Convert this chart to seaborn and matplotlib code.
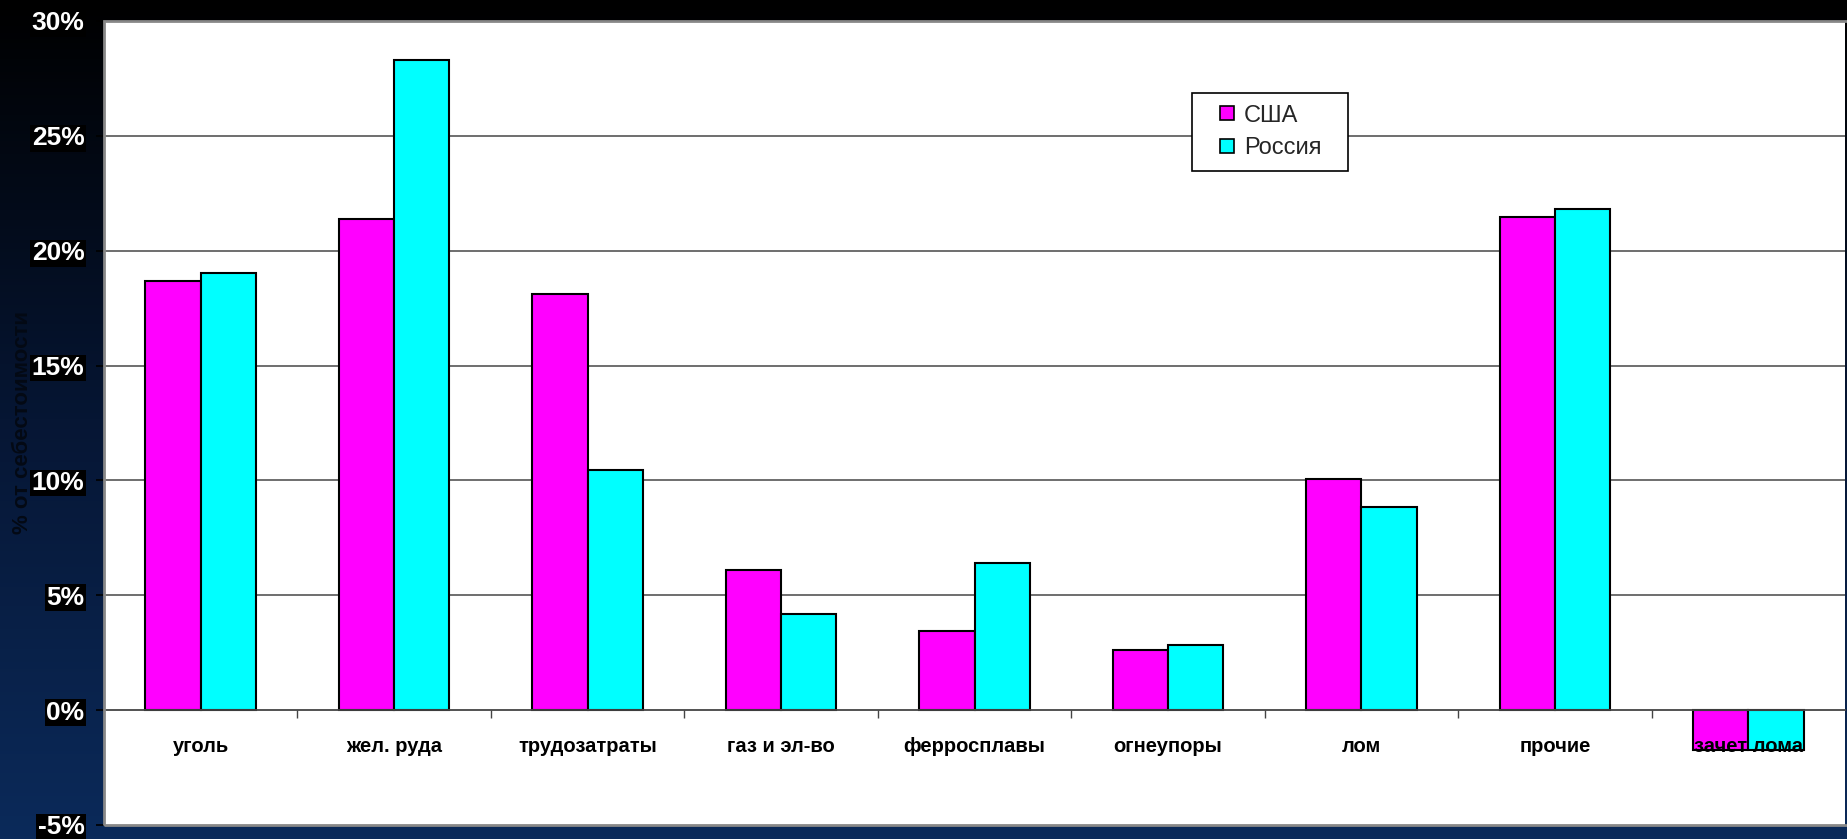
import matplotlib
matplotlib.use('Agg')
import matplotlib.pyplot as plt
import matplotlib.colors as mcolors
from matplotlib.lines import Line2D
from matplotlib.patches import Rectangle
import numpy as np
import pandas as pd
import seaborn as sns

categories = ['уголь', 'жел. руда', 'трудозатраты', 'газ и эл-во', 'ферросплавы',
              'огнеупоры', 'лом', 'прочие', 'зачет лома']
usa = [18.7, 21.4, 18.1, 6.1, 3.45, 2.6, 10.05, 21.45, -1.75]
russia = [19.05, 28.3, 10.45, 4.2, 6.4, 2.85, 8.85, 21.8, -1.75]
series = ['США', 'Россия']
yticks = [-5, 0, 5, 10, 15, 20, 25, 30]

df = pd.DataFrame({'cat': categories * 2,
                   'value': usa + russia,
                   'country': [series[0]] * len(usa) + [series[1]] * len(russia)})

sns.set_style('white')
plt.rcParams['font.family'] = ['Liberation Sans', 'DejaVu Sans']

W, H = 1847, 839
fig = plt.figure(figsize=(W / 100, H / 100), dpi=100)

# dark gradient background, black at top -> navy at bottom
bg = fig.add_axes([0, 0, 1, 1], zorder=-10)
cmap_bg = mcolors.LinearSegmentedColormap.from_list('bg', ['#000000', '#061634', '#0b2a5a'])
bg.imshow(np.linspace(0, 1, 256).reshape(-1, 1), aspect='auto', cmap=cmap_bg,
          extent=[0, 1, 0, 1], origin='upper')
bg.axis('off')

ax = fig.add_axes([104 / W, 14 / H, 1741 / W, 804 / H])
ax.set_facecolor('white')
ax.set_axisbelow(False)

colors = {'США': '#ff00ff', 'Россия': '#00ffff'}
sns.barplot(data=df, x='cat', y='value', hue='country', palette=colors, saturation=1,
            width=0.572, edgecolor='black', linewidth=1.5, ax=ax, legend=False)

ax.set_xlim(-0.5, len(categories) - 0.5)
ax.set_ylim(-5, 30)

# gridlines under the bars
for y in yticks[2:]:
    ax.axhline(y, color='#555555', lw=1.2, zorder=0.5)

# x axis on the zero line
for s in ['left', 'right', 'top']:
    ax.spines[s].set_visible(False)
ax.spines['bottom'].set_position(('data', 0))
ax.spines['bottom'].set_color('#444444')
ax.spines['bottom'].set_linewidth(1.3)
ax.add_patch(Rectangle((0, 0), 1.02, 1, transform=ax.transAxes, fill=False,
                       ec='#888888', lw=2, clip_on=False, zorder=3))

ax.set_xticks(range(len(categories)))
ax.set_xticklabels(categories, fontsize=14.5, fontweight='bold', color='black')
ax.set_xticks(np.arange(0.5, len(categories) - 0.5), minor=True)
ax.tick_params(axis='x', which='major', length=0, pad=19, bottom=True)
ax.tick_params(axis='x', which='minor', length=6, width=1, color='#444444',
               direction='out', bottom=True)
ax.set_xlabel('')

ax.set_yticks(yticks)
ax.set_yticklabels([f'{v}%' for v in yticks], fontsize=19, fontweight='bold', color='white')
ax.tick_params(axis='y', which='major', length=6, width=1.2, color='black', pad=8, left=True)
for lbl in ax.get_yticklabels():
    lbl.set_bbox(dict(facecolor='black', edgecolor='none', pad=1))
ax.set_ylabel('% от себестоимости', fontsize=16, fontweight='bold', color='#030914')
ax.yaxis.set_label_coords(-0.041, 0.5)

# legend: frame drawn separately to match the wide box
lx0, ly0, lx1, ly1 = 1192, 93, 1348, 171
fig.patches.append(Rectangle((lx0 / W, 1 - ly1 / H), (lx1 - lx0) / W, (ly1 - ly0) / H,
                             transform=fig.transFigure, facecolor='white',
                             edgecolor='black', lw=1.2, zorder=5))
handles = [Line2D([], [], marker='s', ls='none', markersize=9.5, markerfacecolor=colors[s],
                  markeredgecolor='black', markeredgewidth=1.2) for s in series]
leg = fig.legend(handles, series, loc='center left',
                 bbox_to_anchor=(1218 / W, 1 - 132 / H), fontsize=17, frameon=False,
                 handlelength=0.8, handletextpad=0.3, labelspacing=0.45, borderpad=0,
                 borderaxespad=0)
leg.set_zorder(6)

fig.savefig('out.png', dpi=100)
